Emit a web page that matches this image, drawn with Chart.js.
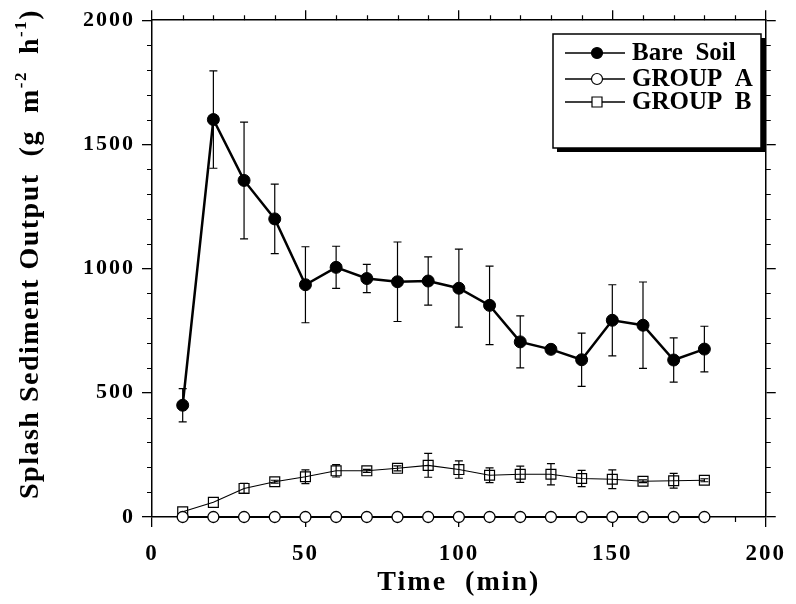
<!DOCTYPE html>
<html>
<head>
<meta charset="utf-8">
<title>Splash Sediment Output</title>
<script src="https://cdn.jsdelivr.net/npm/chart.js@4.4.0/dist/chart.umd.min.js"></script>
<style>
  html, body { margin: 0; padding: 0; background: #fff; }
  #wrap { width: 796px; height: 604px; }
</style>
</head>
<body>
<div id="wrap"><canvas id="splashChart" width="796" height="604"></canvas></div>
<script>
// --- data ---
const times = [10, 20, 30, 40, 50, 60, 70, 80, 90, 100, 110, 120, 130, 140, 150, 160, 170, 180];

const bareSoil    = [450, 1600, 1355, 1200, 935, 1005, 960, 947, 950, 921, 852, 705, 675, 633, 792, 772, 632, 676];
const bareSoilErr = [67, 196, 235, 140, 153, 85, 57, 160, 97, 157, 158, 105, 8, 107, 143, 174, 89, 92];

const groupA = [0, 0, 0, 0, 0, 0, 0, 0, 0, 0, 0, 0, 0, 0, 0, 0, 0, 0];

const groupB    = [21, 59, 115, 142, 162, 186, 186, 196, 208, 191, 168, 172, 172, 155, 152, 144, 146, 148];
const groupBErr = [0, 0, 20, 6, 28, 25, 6, 10, 48, 35, 30, 33, 43, 33, 38, 6, 30, 6];

const seriesLabels = ['Bare  Soil', 'GROUP  A', 'GROUP  B'];
const xTitle = 'Time  (min)';
const yTitleParts = ['Splash Sediment Output  (g  m', '-2', '  h', '-1', ')'];

const serif = "'Liberation Serif', 'Times New Roman', serif";

const toPoints = vals => times.map((t, i) => ({ x: t, y: vals[i] }));

// --- plugins ---
const spacing = {
    id: 'spacing',
    beforeDraw(chart) { chart.ctx.letterSpacing = '2px'; }
};

const minorTicks = {
    id: 'minorTicks',
    beforeDatasetsDraw(chart) {
        const { ctx, chartArea: a, scales: { x, y } } = chart;
        ctx.save();
        ctx.strokeStyle = '#000';
        ctx.lineWidth = 1.2;
        ctx.beginPath();
        for (let v = 10; v < 200; v += 10) {
            if (v % 50 === 0) continue;
            const px = Math.round(x.getPixelForValue(v)) + 0.5;
            ctx.moveTo(px, a.bottom); ctx.lineTo(px, a.bottom + 5);
            ctx.moveTo(px, a.top); ctx.lineTo(px, a.top - 5);
        }
        for (let v = 100; v < 2000; v += 100) {
            if (v % 500 === 0) continue;
            const py = Math.round(y.getPixelForValue(v)) + 0.5;
            ctx.moveTo(a.left, py); ctx.lineTo(a.left - 5, py);
            ctx.moveTo(a.right, py); ctx.lineTo(a.right + 5, py);
        }
        ctx.stroke();
        ctx.restore();
    }
};

const errorBars = {
    id: 'errorBars',
    afterDatasetsDraw(chart) {
        const { ctx, scales: { x, y } } = chart;
        const sets = [[bareSoil, bareSoilErr], [groupB, groupBErr]];
        ctx.save();
        ctx.strokeStyle = '#000';
        ctx.lineWidth = 1.2;
        sets.forEach(([vals, errs]) => {
            times.forEach((t, i) => {
                const e = errs[i];
                if (!e) return;
                const px = x.getPixelForValue(t);
                const top = y.getPixelForValue(vals[i] + e);
                const bot = y.getPixelForValue(vals[i] - e);
                ctx.beginPath();
                ctx.moveTo(px, top); ctx.lineTo(px, bot);
                ctx.moveTo(px - 4, top); ctx.lineTo(px + 4, top);
                ctx.moveTo(px - 4, bot); ctx.lineTo(px + 4, bot);
                ctx.stroke();
            });
        });
        ctx.restore();
    }
};

const boxLegend = {
    id: 'boxLegend',
    afterDraw(chart) {
        const ctx = chart.ctx;
        const L = 553, T = 34, W = 208, H = 114;
        const rows = [53, 79, 102];
        ctx.save();
        ctx.letterSpacing = '0px';
        ctx.fillStyle = '#000';
        ctx.fillRect(L + 4, T + 4, W, H);
        ctx.fillStyle = '#fff';
        ctx.fillRect(L, T, W, H);
        ctx.strokeStyle = '#000';
        ctx.lineWidth = 1.5;
        ctx.strokeRect(L, T, W, H);

        chart.data.datasets.forEach((ds, i) => {
            const yy = rows[i];
            ctx.strokeStyle = '#000';
            ctx.lineWidth = 1.6;
            ctx.beginPath();
            ctx.moveTo(565, yy); ctx.lineTo(625, yy);
            ctx.stroke();
            ctx.lineWidth = 1.2;
            ctx.beginPath();
            if (ds.pointStyle === 'rect') {
                const s = 5;
                ctx.rect(597 - s, yy - s, 2 * s, 2 * s);
                ctx.fillStyle = '#fff';
            } else {
                ctx.arc(597, yy, 5.5, 0, Math.PI * 2);
                ctx.fillStyle = ds.pointBackgroundColor;
            }
            ctx.fill();
            ctx.stroke();
            ctx.fillStyle = '#000';
            ctx.font = 'bold 25px ' + serif;
            ctx.textBaseline = 'middle';
            ctx.textAlign = 'left';
            ctx.fillText(ds.label, 632, yy + 1);
        });
        ctx.restore();
    }
};

const yAxisTitle = {
    id: 'yAxisTitle',
    afterDraw(chart) {
        const ctx = chart.ctx;
        const big = 'bold 28px ' + serif;
        const small = 'bold 17px ' + serif;
        ctx.save();
        ctx.letterSpacing = '1.5px';
        ctx.translate(31, 254);
        ctx.rotate(-Math.PI / 2);
        ctx.fillStyle = '#000';
        ctx.textBaseline = 'middle';
        ctx.textAlign = 'left';
        const widths = yTitleParts.map((p, i) => {
            ctx.font = i % 2 === 1 ? small : big;
            return ctx.measureText(p).width;
        });
        let cx = -widths.reduce((a, b) => a + b, 0) / 2;
        yTitleParts.forEach((p, i) => {
            const sup = i % 2 === 1;
            ctx.font = sup ? small : big;
            ctx.fillText(p, cx, sup ? -9 : 0);
            cx += widths[i];
        });
        ctx.restore();
    }
};

// --- chart ---
const frameGrid = { drawOnChartArea: false, drawTicks: true, tickLength: 10, color: '#000', lineWidth: 1.3 };
const frameBorder = { display: true, color: '#000', width: 1.5 };

new Chart(document.getElementById('splashChart'), {
    type: 'line',
    data: {
        datasets: [
            {
                label: seriesLabels[0], data: toPoints(bareSoil),
                borderColor: '#000', backgroundColor: '#000', borderWidth: 2.5,
                pointStyle: 'circle', pointRadius: 6, pointBackgroundColor: '#000',
                pointBorderColor: '#000', pointBorderWidth: 1, tension: 0, clip: false
            },
            {
                label: seriesLabels[1], data: toPoints(groupA),
                borderColor: '#000', backgroundColor: '#fff', borderWidth: 2,
                pointStyle: 'circle', pointRadius: 5.5, pointBackgroundColor: '#fff',
                pointBorderColor: '#000', pointBorderWidth: 1.3, tension: 0, clip: false
            },
            {
                label: seriesLabels[2], data: toPoints(groupB),
                borderColor: '#000', backgroundColor: 'rgba(0,0,0,0)', borderWidth: 1.1,
                pointStyle: 'rect', pointRadius: 7, pointBackgroundColor: 'rgba(0,0,0,0)',
                pointBorderColor: '#000', pointBorderWidth: 1.2, tension: 0, clip: false
            }
        ]
    },
    options: {
        responsive: false, animation: false, devicePixelRatio: 1,
        layout: { padding: 0 },
        plugins: { legend: { display: false }, tooltip: { enabled: false } },
        scales: {
            x: {
                type: 'linear', position: 'bottom', min: 0, max: 200,
                ticks: { stepSize: 50, color: '#000', padding: 13, maxRotation: 0,
                         callback: v => String(v),
                         font: { family: serif, size: 23, weight: 'bold' } },
                grid: frameGrid, border: frameBorder,
                title: { display: true, text: xTitle, color: '#000',
                         font: { family: serif, size: 28, weight: 'bold' },
                         padding: { top: 0, bottom: 4 } },
                afterFit: s => { s.height = 87; }
            },
            y: {
                type: 'linear', position: 'left', min: 0, max: 2000,
                ticks: { stepSize: 500, color: '#000', padding: 7,
                         callback: v => String(v),
                         font: { family: serif, size: 22, weight: 'bold' } },
                grid: frameGrid, border: frameBorder,
                afterFit: s => { s.width = 152; }
            },
            x2: {
                type: 'linear', position: 'top', min: 0, max: 200,
                ticks: { display: false, stepSize: 50 },
                grid: frameGrid, border: frameBorder,
                afterFit: s => { s.height = 18; }
            },
            y2: {
                type: 'linear', position: 'right', min: 0, max: 2000,
                ticks: { display: false, stepSize: 500 },
                grid: frameGrid, border: frameBorder,
                afterFit: s => { s.width = 25; }
            }
        }
    },
    plugins: [spacing, minorTicks, errorBars, boxLegend, yAxisTitle]
});
</script>
</body>
</html>
